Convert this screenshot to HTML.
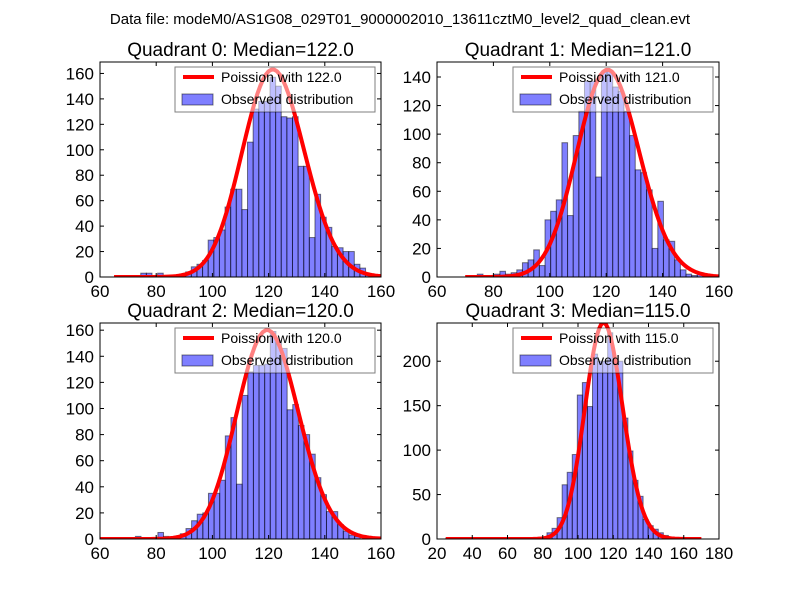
<!DOCTYPE html>
<html><head><meta charset="utf-8"><style>
body{margin:0;background:#fff}
svg{display:block;font-family:"Liberation Sans",sans-serif}
</style></head><body>
<svg id="fig" width="800" height="600" viewBox="0 0 800 600">
<rect width="800" height="600" fill="#fff"/>
<text x="400" y="24" text-anchor="middle" font-size="15">Data file: modeM0/AS1G08_029T01_9000002010_13611cztM0_level2_quad_clean.evt</text>
</svg>
<script>
const q0Counts=[0,0,0,0,0,3,3,0,3,0,1,1,2,4,8,10,13,29,31,37,55,69,69,53,106,132,138,138,157,150,126,125,126,87,87,31,65,47,39,24,23,20,20,10,7,2,1];
const q1Counts=[0,1,1,2,0,1,2,4,2,3,5,10,12,19,8,40,46,54,94,43,99,116,137,137,70,144,144,133,130,116,99,75,73,61,20,53,26,25,12,5,2,1,3,1];
const q2Counts=[0,0,0,0,0,2,0,0,0,5,2,1,1,4,8,14,19,20,35,35,45,79,93,42,110,128,133,133,134,159,152,146,99,103,87,80,65,47,34,21,21,11,6,3,2];
const q3Counts=[1,0,0,0,0,0,0,0,0,0,0,0,0,1,1,1,1,1,1,1,7,12,24,61,75,95,162,176,149,208,200,200,232,200,200,136,99,66,48,22,15,11,7,4,2,1,1,1,1];
const binStarts=[64.5,68.3,62.6,25];
const binWidths=[2,2,2,2.87];
const medians=[122,121,120,115];
const curvePeaks=[163,145,160,243];
const curveRanges=[[65,160],[70,160],[60,160],[25,170]];
const xTicks=[[60,80,100,120,140,160],[60,80,100,120,140,160],[60,80,100,120,140,160],[20,40,60,80,100,120,140,160,180]];
const yTicks=[[0,20,40,60,80,100,120,140,160],[0,20,40,60,80,100,120,140],[0,20,40,60,80,100,120,140,160],[0,50,100,150,200]];
const xLims=[[60,160],[60,160],[60,160],[20,180]];
const yMaxes=[169,150.5,165.5,243];
const allCounts=[q0Counts,q1Counts,q2Counts,q3Counts];
const boxes=[[100,62,281,215],[437,62,282,215],[100,323,281,216],[437,323,282,216]];
const NS="http://www.w3.org/2000/svg";
const svg=document.getElementById('fig');
function mk(tag,attrs,parent){const e=document.createElementNS(NS,tag);for(const k in attrs)e.setAttribute(k,attrs[k]);(parent||svg).appendChild(e);return e;}
function lgamma(x){return (x-0.5)*Math.log(x)-x+0.5*Math.log(2*Math.PI)+1/(12*x)-1/(360*x*x*x);}
function logPmf(k,m){return k*Math.log(m)-m-lgamma(k+1);}
for(let p=0;p<4;p++){
  const [bx,by,bw,bh]=boxes[p];
  const [x0,x1]=xLims[p];const ym=yMaxes[p];
  const X=v=>bx+(v-x0)/(x1-x0)*bw;
  const Y=v=>by+bh-v/ym*bh;
  const g=mk('g',{});
  
  
  const cp=mk('clipPath',{id:'c'+p},g);mk('rect',{x:bx,y:by,width:bw,height:bh},cp);
  // bars
  const cs=allCounts[p];
  for(let i=0;i<cs.length;i++){
    if(cs[i]<=0)continue;
    const l=binStarts[p]+i*binWidths[p];
    const r=mk('rect',{x:X(l),y:Y(cs[i]),width:X(l+binWidths[p])-X(l),height:Y(0)-Y(cs[i]),fill:'#0000ff','fill-opacity':0.5,stroke:'#000','stroke-opacity':0.5,'stroke-width':1,'clip-path':'url(#c'+p+')'},g);
    
    
  }
  // curve
  const m=medians[p];const lm=logPmf(m,m);let d='';
  for(let k=curveRanges[p][0];k<=curveRanges[p][1];k++){const v=curvePeaks[p]*Math.exp(logPmf(k,m)-lm);d+=(d?'L':'M')+X(k).toFixed(2)+','+Y(v).toFixed(2);}
  const cv=mk('path',{d:d,fill:'none',stroke:'#ff0000','stroke-width':4,'stroke-linejoin':'round','clip-path':'url(#c'+p+')'},g);
  
  
  // frame
  mk('rect',{x:bx,y:by,width:bw,height:bh,fill:'none',stroke:'#000','stroke-width':1},g);
  // ticks
  xTicks[p].forEach(t=>{const x=X(t);
    mk('line',{x1:x,x2:x,y1:by+bh,y2:by+bh-4,stroke:'#000'},g);
    mk('line',{x1:x,x2:x,y1:by,y2:by+4,stroke:'#000'},g);
    const tx=mk('text',{x:x,y:by+bh+20,'text-anchor':'middle','font-size':17},g);tx.textContent=t;
    
    
  });
  yTicks[p].forEach(t=>{const y=Y(t);
    mk('line',{x1:bx,x2:bx+4,y1:y,y2:y,stroke:'#000'},g);
    mk('line',{x1:bx+bw,x2:bx+bw-4,y1:y,y2:y,stroke:'#000'},g);
    const tx=mk('text',{x:bx-6,y:y+6,'text-anchor':'end','font-size':17},g);tx.textContent=t;
    
    
  });
  const tt=mk('text',{x:bx+bw/2,y:by-6,'text-anchor':'middle','font-size':19},g);
  tt.textContent='Quadrant '+p+': Median='+m.toFixed(1);
  
  
  // legend
  const lx=bx+bw-206,ly=by+5;
  const lg=mk('g',{},g);
  
  
  mk('rect',{x:lx,y:ly,width:200,height:45,fill:'#fff','fill-opacity':0.5,stroke:'#000','stroke-opacity':0.5,'stroke-width':1},lg);
  mk('line',{x1:lx+8,x2:lx+39,y1:ly+10,y2:ly+10,stroke:'#ff0000','stroke-width':4},lg);
  const t1=mk('text',{x:lx+46,y:ly+15,'font-size':14},lg);t1.textContent='Poission with '+m.toFixed(1);
  mk('rect',{x:lx+7,y:ly+27,width:31,height:11,fill:'#0000ff','fill-opacity':0.5,stroke:'#000','stroke-opacity':0.5},lg);
  const t2=mk('text',{x:lx+46,y:ly+37,'font-size':14},lg);t2.textContent='Observed distribution';
}
</script>
</body></html>
